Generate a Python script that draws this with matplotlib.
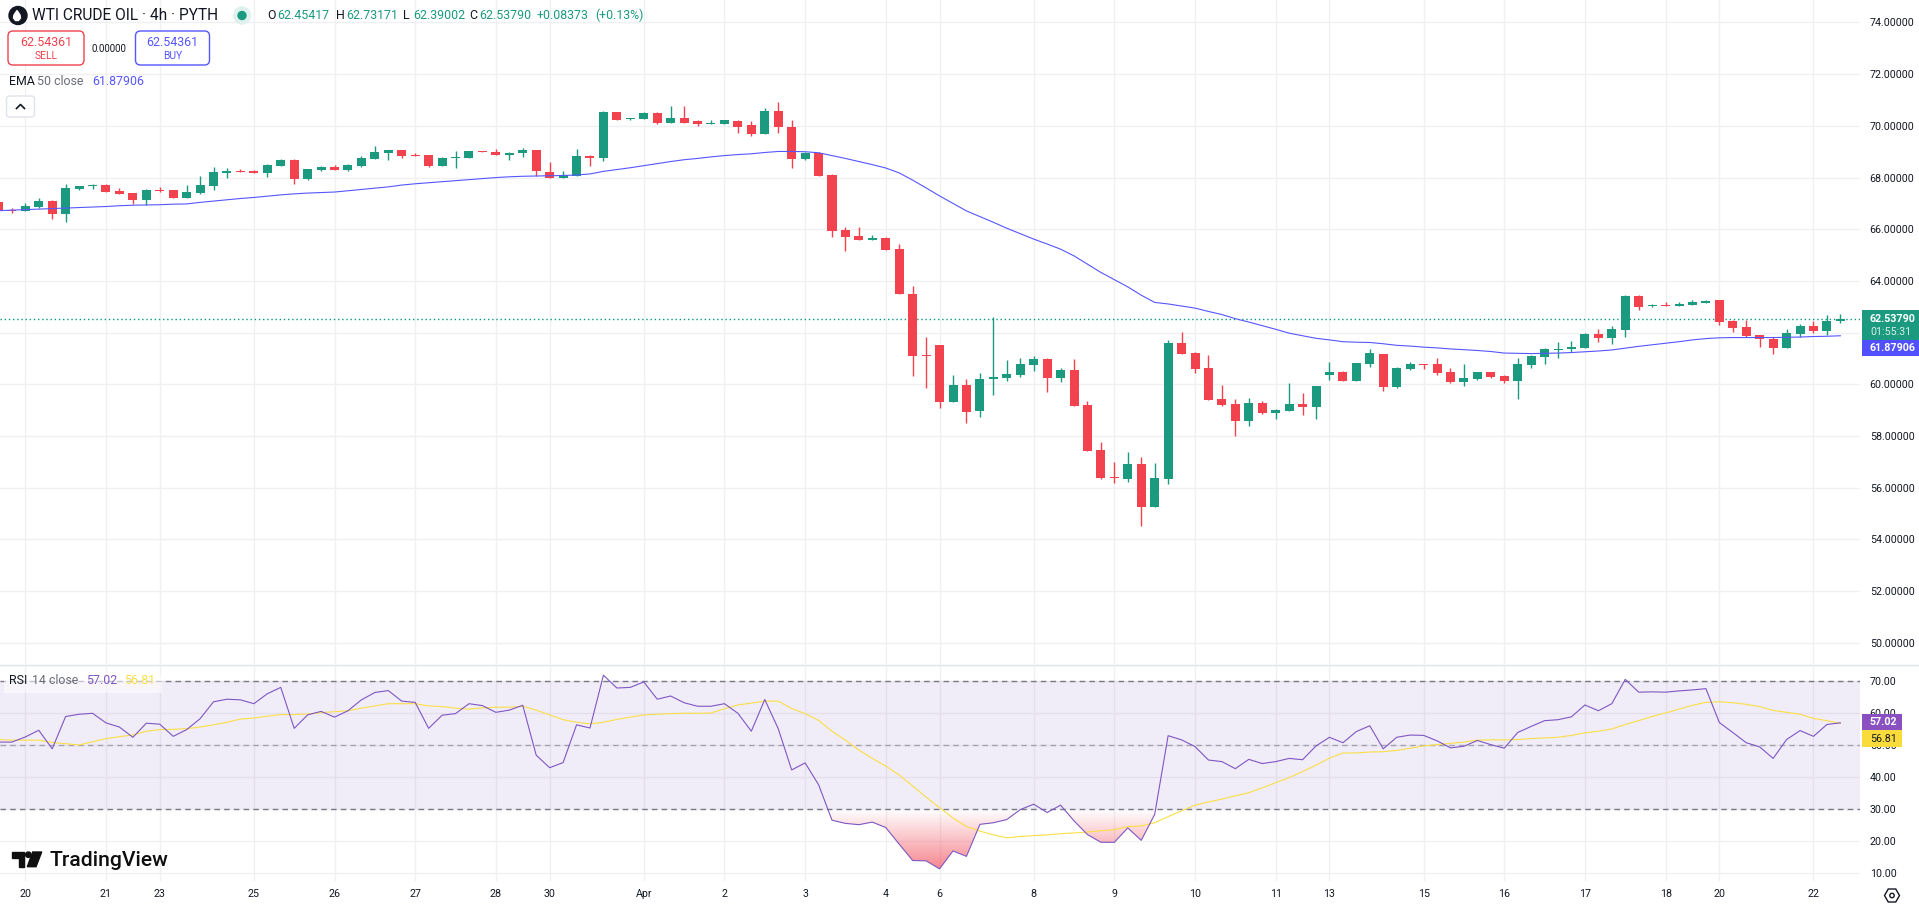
"""
WTI crude oil 4h chart with EMA and RSI panes
"""
import numpy as np
from matplotlib import pyplot as plt
from matplotlib.colors import to_rgb
from matplotlib.patches import Circle, FancyBboxPatch, Polygon, Rectangle, RegularPolygon

plt.rcParams['font.family'] = ['Roboto', 'DejaVu Sans']

# candles, first one is two bars before the "20" tick
opens = [67.05, 66.76, 66.71, 66.86, 67.09, 66.59, 67.55, 67.68, 67.71, 67.47,
         67.40, 67.13, 67.51, 67.51, 67.21, 67.40, 67.67, 68.17, 68.24, 68.24,
         68.17, 68.44, 68.67, 67.94, 68.28, 68.40, 68.28, 68.44, 68.71, 68.94,
         69.05, 68.86, 68.86, 68.44, 68.74, 68.74, 69.01, 68.97, 68.86, 68.94,
         69.05, 68.21, 67.97, 68.05, 68.82, 68.74, 70.55, 70.28, 70.28, 70.51,
         70.13, 70.32, 70.17, 70.09, 70.09, 70.17, 70.05, 69.67, 70.59, 69.97,
         68.71, 68.94, 68.09, 65.97, 65.74, 65.59, 65.67, 65.24, 63.51, 61.13,
         61.51, 59.32, 59.97, 58.97, 60.21, 60.24, 60.36, 60.74, 60.97, 60.24,
         60.55, 59.21, 57.47, 56.40, 56.32, 56.90, 55.24, 56.32, 61.59, 61.21,
         60.63, 59.44, 59.24, 58.59, 59.28, 58.90, 58.96, 59.23, 59.12, 60.35,
         60.46, 60.12, 60.77, 61.19, 59.88, 60.58, 60.77, 60.77, 60.46, 60.08,
         60.19, 60.46, 60.31, 60.12, 60.73, 61.04, 61.31, 61.35, 61.42, 61.96,
         61.81, 62.12, 63.42, 63.04, 63.08, 63.04, 63.08, 63.15, 63.27, 62.46,
         62.23, 61.92, 61.77, 61.42, 61.96, 62.27, 62.08, 62.45]
closes = [66.71, 66.72, 66.90, 67.09, 66.59, 67.59, 67.67, 67.72, 67.44, 67.36,
          67.13, 67.51, 67.47, 67.21, 67.44, 67.71, 68.21, 68.24, 68.21, 68.17,
          68.47, 68.67, 67.94, 68.32, 68.40, 68.28, 68.47, 68.74, 68.97, 69.05,
          68.82, 68.82, 68.44, 68.74, 68.78, 69.01, 68.97, 68.86, 68.94, 69.05,
          68.24, 67.97, 68.09, 68.82, 68.74, 70.55, 70.24, 70.32, 70.51, 70.13,
          70.32, 70.13, 70.09, 70.13, 70.21, 69.97, 69.67, 70.59, 69.94, 68.71,
          68.94, 68.05, 65.94, 65.71, 65.59, 65.67, 65.21, 63.51, 61.09, 61.09,
          59.32, 59.97, 58.94, 60.21, 60.28, 60.40, 60.78, 60.97, 60.24, 60.55,
          59.17, 57.44, 56.36, 56.36, 56.90, 55.24, 56.36, 61.59, 61.17, 60.59,
          59.40, 59.21, 58.59, 59.28, 58.90, 59.01, 59.23, 59.12, 59.92, 60.46,
          60.12, 60.81, 61.23, 59.88, 60.62, 60.77, 60.73, 60.42, 60.08, 60.23,
          60.46, 60.27, 60.12, 60.77, 61.08, 61.35, 61.38, 61.46, 61.96, 61.81,
          62.15, 63.42, 63.00, 63.08, 63.04, 63.12, 63.19, 63.23, 62.42, 62.19,
          61.88, 61.77, 61.42, 62.00, 62.27, 62.08, 62.46, 62.54]
highs = [67.05, 66.82, 67.01, 67.21, 67.12, 67.74, 67.67, 67.74, 67.74, 67.59,
         67.40, 67.55, 67.63, 67.51, 67.71, 68.05, 68.40, 68.36, 68.32, 68.28,
         68.51, 68.71, 68.71, 68.32, 68.44, 68.47, 68.51, 68.82, 69.21, 69.05,
         69.05, 68.94, 68.86, 68.78, 69.01, 69.01, 69.01, 69.09, 68.97, 69.13,
         69.05, 68.59, 68.24, 69.09, 68.86, 70.59, 70.55, 70.32, 70.55, 70.55,
         70.78, 70.78, 70.24, 70.21, 70.24, 70.21, 70.17, 70.71, 70.94, 70.21,
         68.97, 68.97, 68.13, 66.09, 66.09, 65.78, 65.71, 65.44, 63.82, 61.82,
         61.51, 60.36, 60.21, 60.44, 62.59, 60.94, 61.01, 61.09, 61.01, 60.63,
         60.97, 59.36, 57.78, 57.01, 57.40, 57.17, 56.94, 61.71, 62.01, 61.24,
         61.13, 59.97, 59.44, 59.47, 59.36, 59.05, 60.04, 59.65, 59.92, 60.88,
         60.50, 60.81, 61.35, 61.19, 60.69, 60.85, 60.77, 61.00, 60.62, 60.77,
         60.46, 60.46, 60.38, 61.00, 61.12, 61.42, 61.62, 61.69, 62.00, 62.15,
         62.27, 63.46, 63.46, 63.12, 63.19, 63.19, 63.27, 63.27, 63.27, 62.50,
         62.50, 61.92, 61.85, 62.15, 62.35, 62.46, 62.69, 62.73]
lows = [66.71, 66.63, 66.71, 66.82, 66.40, 66.28, 67.51, 67.55, 67.44, 67.36,
        66.97, 66.94, 67.44, 67.21, 67.21, 67.36, 67.51, 67.97, 68.21, 68.17,
        68.01, 68.44, 67.74, 67.90, 68.24, 68.28, 68.24, 68.40, 68.71, 68.67,
        68.74, 68.82, 68.40, 68.44, 68.36, 68.74, 68.97, 68.86, 68.67, 68.78,
        68.05, 67.97, 67.97, 68.05, 68.44, 68.63, 70.21, 70.24, 70.28, 70.09,
        70.13, 70.13, 70.01, 70.09, 70.09, 69.71, 69.59, 69.67, 69.74, 68.36,
        68.67, 68.05, 65.71, 65.17, 65.59, 65.59, 65.21, 63.51, 60.32, 59.86,
        59.09, 59.32, 58.51, 58.74, 59.59, 60.13, 60.28, 60.51, 59.71, 60.09,
        59.17, 57.44, 56.32, 56.17, 56.21, 54.51, 55.24, 56.13, 61.17, 60.44,
        59.40, 59.17, 58.01, 58.40, 58.86, 58.67, 58.96, 58.81, 58.65, 60.15,
        60.12, 60.12, 60.69, 59.73, 59.85, 60.54, 60.58, 60.38, 60.04, 59.92,
        60.15, 60.23, 60.04, 59.42, 60.65, 60.77, 61.00, 61.27, 61.42, 61.62,
        61.58, 61.85, 62.88, 63.00, 63.04, 63.04, 63.08, 63.15, 62.31, 62.04,
        61.85, 61.46, 61.19, 61.42, 61.85, 62.00, 61.92, 62.39]

ema_50 = [66.72, 66.74, 66.76, 66.78, 66.80, 66.82, 66.84, 66.86, 66.88, 66.91,
          66.93, 66.94, 66.95, 66.97, 66.98, 67.04, 67.09, 67.14, 67.19, 67.23,
          67.28, 67.33, 67.37, 67.40, 67.42, 67.44, 67.49, 67.54, 67.59, 67.64,
          67.71, 67.76, 67.80, 67.84, 67.88, 67.92, 67.96, 68.00, 68.03, 68.05,
          68.06, 68.07, 68.08, 68.10, 68.14, 68.24, 68.31, 68.38, 68.46, 68.54,
          68.62, 68.69, 68.74, 68.80, 68.85, 68.89, 68.92, 68.97, 69.01, 69.01,
          69.00, 68.96, 68.85, 68.74, 68.62, 68.50, 68.37, 68.18, 67.90, 67.60,
          67.29, 67.00, 66.71, 66.49, 66.27, 66.04, 65.83, 65.62, 65.43, 65.23,
          64.97, 64.65, 64.33, 64.05, 63.77, 63.45, 63.17, 63.11, 63.03, 62.95,
          62.82, 62.70, 62.54, 62.41, 62.27, 62.13, 61.98, 61.88, 61.78, 61.72,
          61.65, 61.63, 61.62, 61.57, 61.51, 61.48, 61.44, 61.41, 61.37, 61.34,
          61.31, 61.27, 61.21, 61.20, 61.19, 61.20, 61.21, 61.23, 61.26, 61.29,
          61.33, 61.40, 61.47, 61.53, 61.59, 61.65, 61.72, 61.77, 61.80, 61.81,
          61.81, 61.81, 61.81, 61.82, 61.83, 61.85, 61.86, 61.88]

rsi_14 = [51.0, 51.0, 52.6, 54.7, 48.9, 59.0, 59.7, 60.0, 57.0, 55.7,
          52.5, 56.9, 56.6, 52.8, 54.9, 58.3, 63.6, 64.4, 64.2, 63.0,
          66.1, 68.1, 55.3, 59.5, 60.6, 58.8, 60.8, 64.2, 66.5, 67.1,
          63.8, 63.4, 55.3, 59.4, 59.9, 63.0, 62.4, 60.3, 61.0, 62.5,
          46.9, 43.0, 44.6, 56.4, 55.4, 71.9, 67.9, 68.1, 69.8, 64.4,
          65.4, 63.3, 62.2, 62.2, 63.0, 60.0, 54.4, 64.3, 55.2, 42.3,
          44.5, 37.7, 26.6, 25.6, 25.2, 26.0, 24.3, 19.1, 14.0, 13.9,
          11.4, 17.0, 15.3, 25.3, 25.8, 26.8, 29.9, 31.6, 29.0, 31.3,
          26.4, 22.1, 19.7, 19.7, 24.2, 20.3, 28.4, 53.0, 51.7, 49.6,
          45.4, 44.9, 42.7, 45.6, 44.3, 44.9, 45.9, 45.5, 49.8, 52.5,
          50.8, 54.3, 56.1, 48.9, 52.5, 53.2, 53.1, 51.4, 49.2, 49.7,
          51.5, 50.2, 49.1, 54.0, 55.9, 57.7, 58.0, 58.9, 62.6, 60.8,
          63.0, 70.6, 66.6, 66.7, 66.6, 67.0, 67.3, 67.7, 57.1, 54.0,
          50.8, 49.5, 45.9, 51.8, 54.6, 52.8, 56.5, 57.02]
rsi_ma = [51.8, 51.6, 51.6, 51.6, 50.9, 50.5, 50.1, 51.1, 52.1, 52.7,
          53.2, 54.4, 54.9, 55.0, 55.2, 55.7, 56.4, 57.2, 58.2, 58.5,
          59.1, 59.6, 59.6, 59.8, 60.2, 60.5, 60.8, 61.6, 62.3, 63.0,
          63.0, 63.0, 62.3, 62.1, 61.6, 61.3, 61.7, 61.9, 61.9, 62.2,
          61.0, 59.5, 58.0, 57.2, 56.7, 57.2, 58.1, 58.8, 59.5, 59.7,
          59.9, 60.0, 60.0, 60.1, 61.4, 62.6, 63.2, 63.8, 63.8, 61.5,
          59.9, 57.8, 54.4, 51.6, 48.5, 45.9, 43.5, 40.7, 37.3, 33.8,
          30.5, 27.3, 24.6, 23.2, 22.0, 21.1, 21.5, 21.8, 22.0, 22.4,
          22.6, 22.9, 23.3, 23.6, 24.6, 24.8, 25.8, 27.7, 29.5, 31.3,
          32.3, 33.2, 34.2, 35.2, 36.7, 38.3, 39.9, 41.8, 43.8, 46.0,
          47.6, 47.6, 47.9, 48.0, 48.4, 49.1, 49.8, 50.2, 50.6, 51.0,
          51.6, 51.7, 51.7, 51.8, 52.1, 52.3, 52.5, 53.1, 53.9, 54.4,
          55.1, 56.5, 57.7, 59.0, 60.1, 61.3, 62.5, 63.4, 63.6, 63.3,
          62.8, 62.1, 60.9, 60.3, 59.7, 58.4, 57.7, 56.81]

time_labels = ['20', '21', '23', '25', '26', '27', '28', '30', 'Apr', '2', '3', '4',
               '6', '8', '9', '10', '11', '13', '15', '16', '17', '18', '20', '22']
time_bars = [0, 6, 10, 17, 23, 29, 35, 39, 46, 52, 58, 64,
             68, 75, 81, 87, 93, 97, 104, 110, 116, 122, 126, 133]
price_ticks = [50, 52, 54, 56, 58, 60, 62, 64, 66, 68, 70, 72, 74]
rsi_ticks = [10, 20, 30, 40, 50, 60, 70]
last_price = 62.5379

GREEN = '#1c9a80'
RED = '#f1424d'
BLUE = '#5656ff'
PURPLE = '#7e57c2'
YELLOW = '#fadf45'
GRID = '#f0f0f3'
DARK = '#131722'
GREY = '#6a6d78'
AXIS_SIZE = 7.7
TEXT_SIZE = 8.9

W, H = 1919, 907
fig = plt.figure(figsize=(W / 100, H / 100), dpi=100)

bars = np.arange(len(opens)) - 2
opens, closes, highs, lows = map(np.array, (opens, closes, highs, lows))
rsi_14, rsi_ma = np.array(rsi_14), np.array(rsi_ma)

#the price pane
ax = fig.add_axes([0, 1 - 664 / H, 1860 / W, 664 / H])
colors = [GREEN if c >= o else RED for o, c in zip(opens, closes)]
ax.vlines(bars, lows, highs, colors=colors, linewidth=1.0, zorder=3)
ax.bar(bars, np.abs(closes - opens), bottom=np.minimum(opens, closes), width=0.67,
       color=colors, linewidth=0, zorder=3)
ax.plot(bars, ema_50, color=BLUE, linewidth=0.8, zorder=4)
ax.axhline(last_price, color='#089981', linewidth=1.0, linestyle=(0, (1, 2)), zorder=2)
ax.set_xlim(-1.882, 136.46)
ax.set_ylim(49.18, 74.87)
ax.set_yticks(price_ticks)
#the 62 label sits behind the last price tag
ax.set_yticklabels(['' if p == 62 else f'{p:.5f}' for p in price_ticks])
ax.set_xticks(time_bars)
ax.tick_params(axis='x', length=0, labelbottom=False)

#the rsi pane
ax2 = fig.add_axes([0, (H - 881) / H, 1860 / W, 216 / H])
ax2.axhspan(30, 70, color=PURPLE, alpha=0.11, linewidth=0, zorder=1)
for level, alpha in [(70, 1.0), (50, 0.6), (30, 1.0)]:
    ax2.axhline(level, color='#787b86', alpha=alpha, linewidth=1.0, linestyle=(0, (4, 3)), zorder=2)

#oversold gradient, clipped to the area between the rsi line and 30
low_fill = ax2.fill_between(bars, rsi_14, 30, where=rsi_14 < 30, interpolate=True,
                            facecolor='none', linewidth=0)
gradient = np.zeros((256, 1, 4))
gradient[:, :, :3] = to_rgb('#ef3b4a')
gradient[:, 0, 3] = np.linspace(0, 0.62, 256)
img = ax2.imshow(gradient, extent=[bars[0], bars[-1], rsi_14.min(), 30], aspect='auto',
                 origin='upper', interpolation='bilinear', zorder=2)
fill_paths = low_fill.get_paths()
img.set_clip_path(fill_paths[0].make_compound_path(*fill_paths), transform=ax2.transData)

ax2.plot(bars, rsi_ma, color=YELLOW, linewidth=0.8, zorder=3)
ax2.plot(bars, rsi_14, color=PURPLE, linewidth=0.8, zorder=4)
ax2.set_xlim(-1.882, 136.46)
ax2.set_ylim(7.6, 75.09)
ax2.set_yticks(rsi_ticks)
ax2.set_yticklabels([f'{r:.2f}' for r in rsi_ticks])
ax2.set_xticks(time_bars)
ax2.set_xticklabels(time_labels)
ax2.tick_params(axis='x', length=0, pad=6, labelsize=AXIS_SIZE, colors=DARK)

for a in (ax, ax2):
    a.grid(True, color=GRID, linewidth=1.0, zorder=0)
    a.set_axisbelow(True)
    a.yaxis.tick_right()
    a.tick_params(axis='y', length=0, pad=7, labelsize=AXIS_SIZE, colors=DARK)
    for spine in a.spines.values():
        spine.set_visible(False)

#everything around the panes is placed in screen pixels on a see-through overlay
ui = fig.add_axes([0, 0, 1, 1], zorder=10)
ui.set_xlim(0, W)
ui.set_ylim(H, 0)
ui.axis('off')


def label(x, y, text, color=DARK, size=TEXT_SIZE, ha='left', **kw):
    ui.text(x, y, text, color=color, fontsize=size, ha=ha, va='center', **kw)


ui.plot([0, W], [664.5, 664.5], color='#e0e3eb', linewidth=1.0)

#header
ui.add_patch(Circle((18, 15.5), 9, color='#131722'))
ui.add_patch(Polygon([(17, 10.5), (20, 15), (20.5, 18), (18.5, 20.5), (15.5, 20.5), (13.5, 18), (14, 15)], color='white'))
label(32, 15.5, 'WTI CRUDE OIL · 4h · PYTH', size=11.2)
ui.add_patch(Circle((242, 15.5), 8.5, color='#dff2ee'))
ui.add_patch(Circle((242, 15.5), 4, color=GREEN))
for x, name, value in [(267, 'O', '62.45417'), (336, 'H', '62.73171'),
                       (403, 'L', '62.39002'), (469, 'C', '62.53790')]:
    label(x, 15.5, name)
    label(x + 10, 15.5, value, color=GREEN)
label(537, 15.5, '+0.08373', color=GREEN)
label(595, 15.5, '(+0.13%)', color=GREEN)

#sell and buy boxes
for x0, x1, col, word in [(8, 84, RED, 'SELL'), (135.5, 209.5, BLUE, 'BUY')]:
    ui.add_patch(FancyBboxPatch((x0, 31), x1 - x0, 34, boxstyle='round,pad=0,rounding_size=5',
                                facecolor='white', edgecolor=col, linewidth=1.0))
    label((x0 + x1) / 2, 42, '62.54361', color=col, ha='center')
    label((x0 + x1) / 2, 56, word, color=col, size=7.4, ha='center')
label(109, 48.5, '0.00000', size=7, ha='center')

#ema legend
label(9, 81.5, 'EMA')
label(37, 81.5, '50 close', color=GREY)
label(92, 81.5, '61.87906', color=BLUE)

#collapse button
ui.add_patch(FancyBboxPatch((6.5, 96), 28, 21, boxstyle='round,pad=0,rounding_size=3',
                            facecolor='white', edgecolor='#e0e3eb', linewidth=1.0))
ui.plot([16.5, 20.5, 24.5], [108.5, 104.5, 108.5], color=DARK, linewidth=1.2)

#rsi legend
ui.add_patch(Rectangle((4, 675), 158, 18, facecolor='white', alpha=0.55, linewidth=0))
label(9, 681, 'RSI')
label(32, 681, '14 close', color=GREY)
label(86, 681, '57.02', color=PURPLE)
label(124, 681, '56.81', color=YELLOW)

#logo
ui.add_patch(Polygon([(12, 852), (24, 852), (24, 866.7), (18.7, 866.7), (18.7, 857.5), (12, 857.5)], color='#0f0f0f'))
ui.add_patch(Circle((28.3, 854.7), 2.7, color='#0f0f0f'))
ui.add_patch(Polygon([(32.7, 852), (41.7, 852), (36, 866.7), (27.3, 866.7)], color='#0f0f0f'))
label(49, 860, 'TradingView', color='#0f0f0f', size=15.2, fontweight='medium')

#price and value tags on the right
ui.add_patch(Rectangle((1861.5, 310), 57.5, 30, color=GREEN, linewidth=0))
ui.add_patch(Rectangle((1861.5, 340), 57.5, 15.7, color='#5050ff', linewidth=0))
label(1870, 319, '62.53790', color='white', size=AXIS_SIZE, fontweight='bold')
label(1870, 332, '01:55:31', color='#d5efe8', size=AXIS_SIZE)
label(1870, 348, '61.87906', color='white', size=AXIS_SIZE, fontweight='bold')
ui.add_patch(Rectangle((1861.5, 714), 40.5, 16, color='#8a4fc0', linewidth=0))
ui.add_patch(Rectangle((1861.5, 730), 40.5, 17, color='#f9dc3c', linewidth=0))
label(1870, 722, '57.02', color='white', size=AXIS_SIZE, fontweight='bold')
label(1870, 739, '56.81', size=AXIS_SIZE)

#settings icon
ui.add_patch(RegularPolygon((1892, 895.5), 6, radius=7.5, orientation=np.pi / 6, facecolor='none', edgecolor=DARK, linewidth=1.0))
ui.add_patch(Circle((1892, 895.5), 2.2, facecolor='none', edgecolor=DARK, linewidth=1.0))

fig.savefig('out.png', dpi=100)
